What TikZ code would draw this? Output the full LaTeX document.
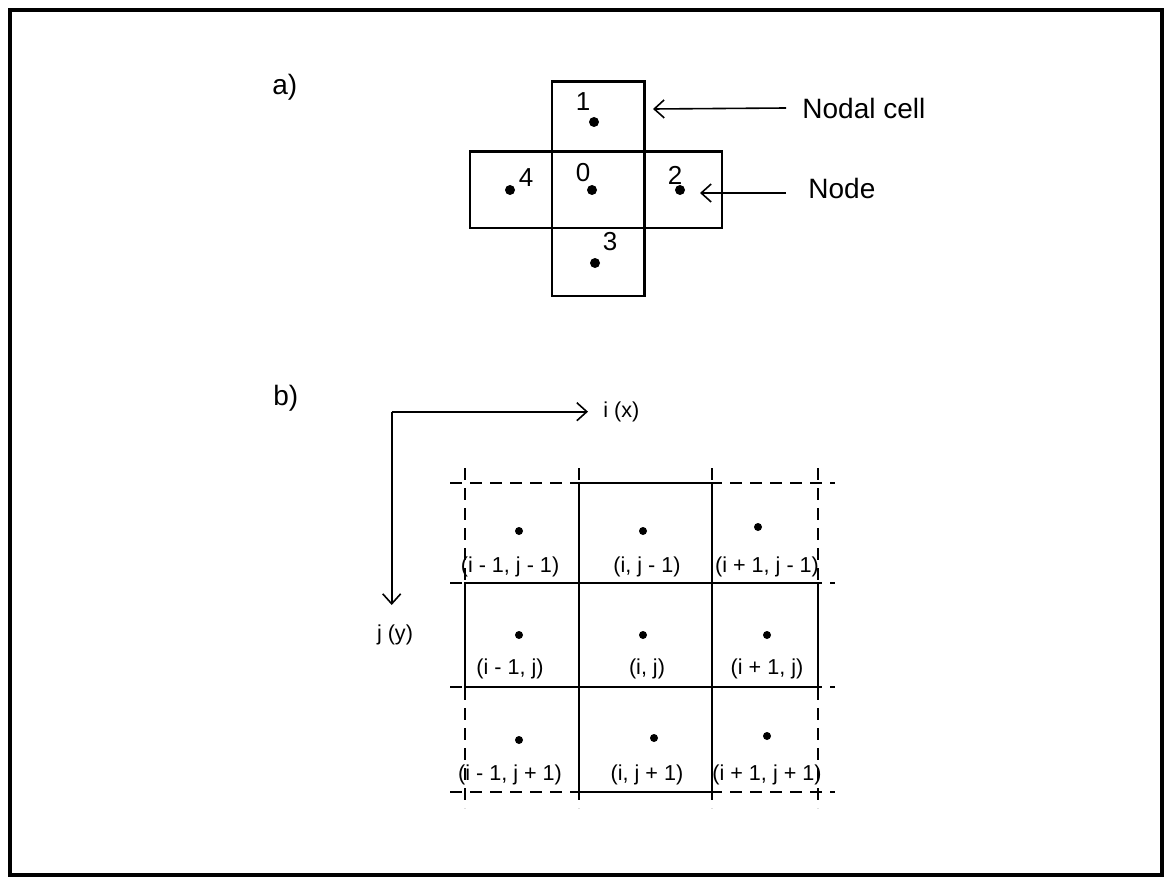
\documentclass[tikz,border=0pt]{standalone}
\usepackage{fontspec}
\setmainfont{Liberation Sans}
\usetikzlibrary{arrows.meta, positioning}

\tikzset{
  cellline/.style={line width=1.2pt},
  guideline/.style={line width=0.9pt, dash pattern=on 6pt off 4pt},
  nodedot/.style={circle, fill=black, inner sep=0pt, minimum size=5pt},
  numtag/.style={font=\fontsize{13}{15}\selectfont, inner sep=0pt},
  celltag/.style={font=\fontsize{10.8}{12}\selectfont, inner sep=0pt},
  sidetag/.style={font=\fontsize{14}{16}\selectfont, inner sep=0pt, anchor=west},
  pointer/.style={line width=0.8pt, -{Straight Barb[length=5pt,width=9pt]}}
}

\begin{document}
\begin{tikzpicture}[x=0.5pt, y=-0.5pt]
  \useasboundingbox[fill=white] (0,0) rectangle (1165,877);
  \draw[line width=1.6pt] (10,10) rectangle (1162,875);

  % a) nodal cells
  \node[sidetag] (parta) at (272,87) {a)};
  \draw[cellline] (551.7,81.7) rectangle (644.3,296);
  \draw[cellline] (470,151.7) rectangle (721.7,227.7);

  \node[nodedot] (n0) at (592,190) {};
  \node[nodedot] (n1) at (594,122) {};
  \node[nodedot] (n2) at (680,190) {};
  \node[nodedot] (n3) at (595,263) {};
  \node[nodedot] (n4) at (510,190) {};

  \node[numtag] (t0) at (583,173) {0};
  \node[numtag] (t1) at (583,102) {1};
  \node[numtag] (t2) at (675,175) {2};
  \node[numtag] (t3) at (610,242) {3};
  \node[numtag] (t4) at (526,178) {4};

  \node[sidetag] (lblcell) at (802,108) {Nodal cell};
  \node[sidetag] (lblnode) at (808,188) {Node};
  \coordinate (cellend) at (653,109);
  \coordinate (nodeend) at (700,193);
  \draw[pointer] ([xshift=-8pt]lblcell.west) -- (cellend);
  \draw[pointer] ([xshift=-11pt]lblnode.west |- nodeend) -- (nodeend);

  % b) finite difference grid
  \node[sidetag] (partb) at (273,398) {b)};
  \coordinate (origin) at (391.7,411.7);
  \node[celltag, anchor=west] (ix) at (603,412) {i (x)};
  \node[celltag] (jy) at (395,635) {j (y)};
  \coordinate (iend) at (588,411.7);
  \coordinate (jend) at (391.7,605);
  \draw[pointer] (origin) -- (iend);
  \draw[pointer] (origin) -- (jend);

  \foreach \y in {483,583,687,792}
    \draw[guideline] (450,\y) -- (835,\y);
  \foreach \x in {465,579,712,818}
    \draw[guideline] (\x,468) -- (\x,808);
  \draw[cellline] (579,483) rectangle (712,792);
  \draw[cellline] (465,583) rectangle (818,687);

  \foreach \r/\dx/\dy/\tx/\ty/\txt in {
      a/519/531/510/567/{(i - 1, j - 1)},
      b/643/531/647/567/{(i, j - 1)},
      c/758/527/767/567/{(i + 1, j - 1)},
      d/519/635/510/669/{(i - 1, j)},
      e/643/635/647/669/{(i, j)},
      f/767/635/767/669/{(i + 1, j)},
      g/519/740/510/775/{(i - 1, j + 1)},
      h/654/738/647/775/{(i, j + 1)},
      k/767/736/767/775/{(i + 1, j + 1)}} {
    \node[nodedot, minimum size=4pt] (g\r) at (\dx,\dy) {};
    \node[celltag] (l\r) at (\tx,\ty) {\txt};
  }
\end{tikzpicture}
\end{document}
